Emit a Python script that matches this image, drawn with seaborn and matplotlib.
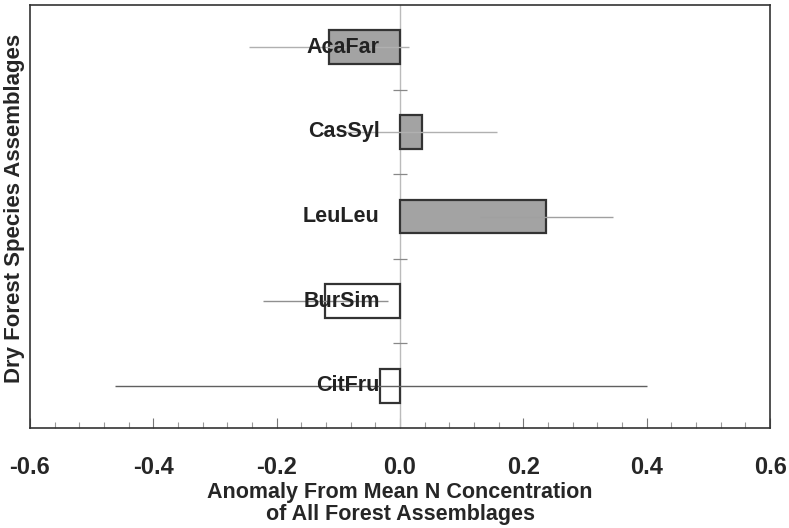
import numpy as np
import pandas as pd
import seaborn as sns
import matplotlib.pyplot as plt
from matplotlib.ticker import MultipleLocator

# data
species = ["AcaFar", "CasSyl", "LeuLeu", "BurSim", "CitFru"]
anomaly = [-0.115, 0.035, 0.237, -0.122, -0.032]
err_low = [-0.245, -0.088, 0.130, -0.222, -0.462]
err_high = [0.015, 0.158, 0.345, -0.020, 0.400]
fills = ["#a3a3a3", "#a3a3a3", "#a3a3a3", "#ffffff", "#ffffff"]
err_colors = ["#b0b0b0", "#b0b0b0", "#a0a0a0", "#909090", "#606060"]

df = pd.DataFrame({"species": species, "anomaly": anomaly})

sns.set_style("ticks")
plt.rcParams["font.family"] = ["Liberation Sans", "DejaVu Sans"]

fig = plt.figure(figsize=(7.89, 5.28), dpi=100)
ax = fig.add_axes([0.038, 0.1894, 0.938, 0.8011])

sns.barplot(data=df, x="anomaly", y="species", hue="species", palette=fills,
            legend=False, orient="h", width=0.4, edgecolor="#333333",
            linewidth=1.6, ax=ax, zorder=2)

# zero line
ax.axvline(0, color="#bbbbbb", lw=1, zorder=1)

# error lines
for i in range(len(species)):
    ax.hlines(i, err_low[i], err_high[i], color=err_colors[i], lw=1, zorder=3)

# small separators on zero line
for i in range(len(species) - 1):
    ax.hlines(i + 0.5, -0.012, 0.012, color="#888888", lw=0.9, zorder=1)

# species labels
for i, s in enumerate(species):
    ax.text(-0.033, i, s, ha="right", va="center", fontsize=15.5, fontweight="bold",
            color="#222222", zorder=4)

ax.set_xlim(-0.6, 0.6)
ax.set_ylim(4.5, -0.5)
ax.xaxis.set_minor_locator(MultipleLocator(0.04))
ax.set_xticks(np.round(np.arange(-0.6, 0.61, 0.2), 1))
ax.set_xticklabels(["-0.6", "-0.4", "-0.2", "0.0", "0.2", "0.4", "0.6"],
                   fontsize=17, fontweight="bold")
ax.tick_params(axis="x", which="major", direction="in", length=7, width=0.8,
               color="#777777", pad=20)
ax.tick_params(axis="x", which="minor", direction="in", length=4, width=0.8,
               color="#999999")
ax.set_yticks([])
ax.set_ylabel("Dry Forest Species Assemblages", fontsize=16, fontweight="bold")
ax.yaxis.set_label_coords(-0.007, 0.52)
ax.set_xlabel("Anomaly From Mean N Concentration\nof All Forest Assemblages",
              fontsize=15.5, fontweight="bold", labelpad=2, linespacing=1.1)

for sp in ax.spines.values():
    sp.set_color("#333333")
    sp.set_linewidth(1.2)

fig.savefig("out.png", dpi=100)
